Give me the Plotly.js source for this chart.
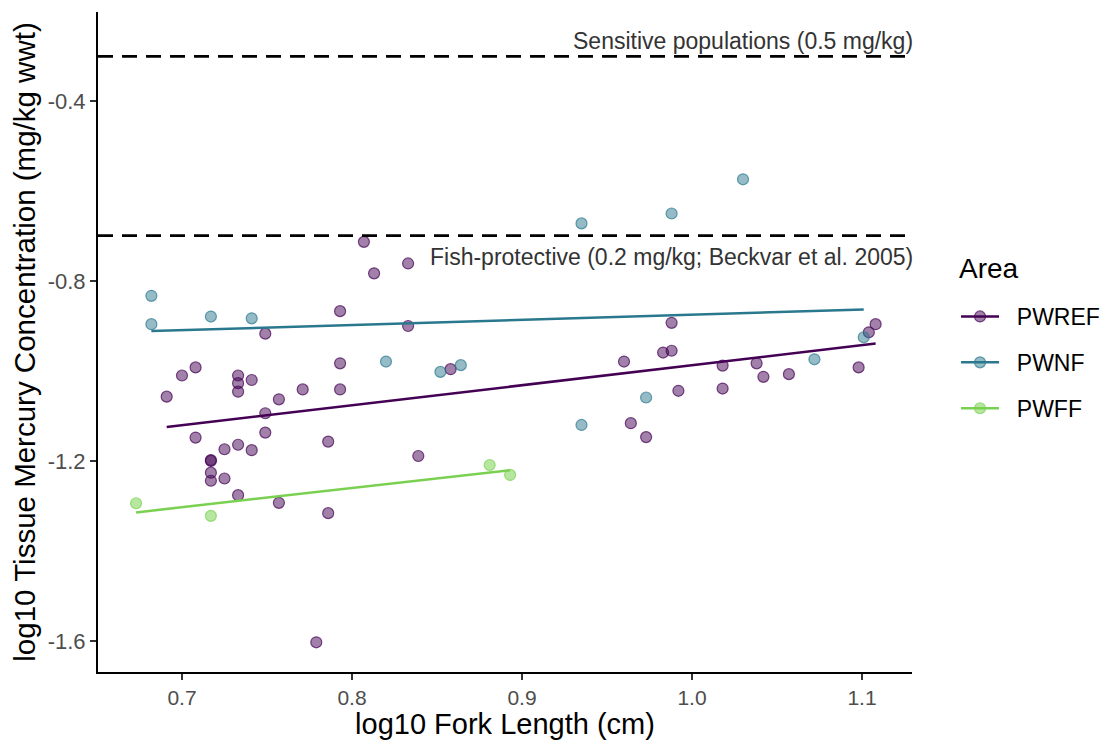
<!DOCTYPE html>
<html>
<head>
<meta charset="utf-8">
<script src="https://cdn.plot.ly/plotly-3.0.1.min.js"></script>
<style>html,body{margin:0;padding:0;background:#fff;}#chart{width:1102px;height:740px;}</style>
</head>
<body>
<div id="chart"></div>
<script>
// ---- data (log10 fork length, log10 tissue mercury) ----
var areas = ['PWREF', 'PWNF', 'PWFF'];
var areaColors = ['#440154', '#2A788E', '#7AD151'];

var pwrefX = [0.691, 0.700, 0.708, 0.708, 0.717, 0.717, 0.717, 0.717, 0.725, 0.725,
              0.733, 0.733, 0.733, 0.733, 0.733, 0.741, 0.741, 0.749, 0.749, 0.749,
              0.757, 0.757, 0.771, 0.779, 0.786, 0.786, 0.793, 0.793, 0.793, 0.807,
              0.813, 0.833, 0.833, 0.839, 0.858, 0.960, 0.964, 0.973, 0.983, 0.988,
              0.988, 0.992, 1.018, 1.018, 1.038, 1.042, 1.057, 1.098, 1.104, 1.108];
var pwrefY = [-1.057, -1.010, -0.992, -1.148, -1.198, -1.200, -1.226, -1.244, -1.174, -1.239,
              -1.010, -1.027, -1.046, -1.164, -1.276, -1.020, -1.176, -0.917, -1.094, -1.137,
              -1.063, -1.293, -1.041, -1.603, -1.157, -1.316, -0.867, -0.983, -1.041, -0.713,
              -0.783, -0.761, -0.900, -1.189, -0.996, -0.979, -1.116, -1.147, -0.959, -0.893,
              -0.955, -1.044, -0.988, -1.039, -0.983, -1.013, -1.007, -0.992, -0.914, -0.896];

var pwnfX = [0.682, 0.682, 0.717, 0.741, 0.820, 0.852, 0.864, 0.935, 0.935, 0.973,
             0.988, 1.030, 1.072, 1.101];
var pwnfY = [-0.833, -0.896, -0.879, -0.883, -0.979, -1.002, -0.987, -0.672, -1.120, -1.059,
             -0.650, -0.574, -0.974, -0.925];

var pwffX = [0.673, 0.717, 0.881, 0.893];
var pwffY = [-1.294, -1.322, -1.209, -1.231];

// reference thresholds (mg/kg) and labels
var thresholdValues = [0.5, 0.2];
var thresholdLabels = ['Sensitive populations (0.5 mg/kg)',
                       'Fish-protective (0.2 mg/kg; Beckvar et al. 2005)'];

// axis ticks and titles
var xTickVals = [0.7, 0.8, 0.9, 1.0, 1.1];
var xTickText = ['0.7', '0.8', '0.9', '1.0', '1.1'];
var yTickVals = [-0.4, -0.8, -1.2, -1.6];
var yTickText = ['-0.4', '-0.8', '-1.2', '-1.6'];
var xTitle = 'log10 Fork Length (cm)';
var yTitle = 'log10 Tissue Mercury Concentration (mg/kg wwt)';
var legendTitle = 'Area';

// ---- build ----
var xs = [pwrefX, pwnfX, pwffX];
var ys = [pwrefY, pwnfY, pwffY];
var pointAlpha = [0.5, 0.5, 0.55];

function hexToRgba(hex, a) {
  var r = parseInt(hex.slice(1, 3), 16), g = parseInt(hex.slice(3, 5), 16), b = parseInt(hex.slice(5, 7), 16);
  return 'rgba(' + r + ',' + g + ',' + b + ',' + a + ')';
}
function linFit(x, y) {
  var n = x.length, mx = 0, my = 0;
  for (var i = 0; i < n; i++) { mx += x[i]; my += y[i]; }
  mx /= n; my /= n;
  var sxy = 0, sxx = 0;
  for (var j = 0; j < n; j++) { sxy += (x[j] - mx) * (y[j] - my); sxx += (x[j] - mx) * (x[j] - mx); }
  var b = sxy / sxx;
  return { a: my - b * mx, b: b };
}

var font = '"Liberation Sans", Arial, sans-serif';
var traces = [];
// points first
for (var k = 0; k < areas.length; k++) {
  traces.push({
    type: 'scatter', mode: 'markers', x: xs[k], y: ys[k], name: areas[k],
    legendgroup: areas[k], showlegend: false, hoverinfo: 'x+y+name',
    marker: { size: 11, color: hexToRgba(areaColors[k], pointAlpha[k]),
              line: { width: 1.2, color: hexToRgba(areaColors[k], 0.7) } }
  });
}
// regression lines (also carry the legend entry: line + point)
for (var m = 0; m < areas.length; m++) {
  var f = linFit(xs[m], ys[m]);
  var x0 = Math.min.apply(null, xs[m]), x1 = Math.max.apply(null, xs[m]);
  traces.push({
    type: 'scatter', mode: 'lines+markers', x: [x0, x1], y: [f.a + f.b * x0, f.a + f.b * x1],
    name: '\u00a0\u00a0' + areas[m], legendgroup: areas[m], showlegend: true, hoverinfo: 'skip',
    line: { color: areaColors[m], width: 2.5 },
    marker: { size: 11, color: hexToRgba(areaColors[m], pointAlpha[m]), opacity: [0, 0, 3],
              line: { width: 1.2, color: hexToRgba(areaColors[m], 0.7) } }
  });
}

var shapes = [], annotations = [];
for (var t = 0; t < thresholdValues.length; t++) {
  var yv = Math.log10(thresholdValues[t]);
  shapes.push({ type: 'line', xref: 'paper', x0: 0, x1: 1, yref: 'y', y0: yv, y1: yv,
                line: { color: '#000', width: 2.8, dash: '15px,9px' } });
  annotations.push({ xref: 'paper', x: 1, xanchor: 'right', xshift: 3, yref: 'y', y: yv,
                     yanchor: t === 0 ? 'bottom' : 'top', yshift: t === 0 ? 0 : -6,
                     text: thresholdLabels[t], showarrow: false,
                     font: { family: font, size: 23, color: '#333333' } });
}
// legend title
annotations.push({ xref: 'paper', x: 1.0553, xanchor: 'left', yref: 'paper', y: 0.6121, yanchor: 'middle',
                   text: legendTitle, showarrow: false, font: { family: font, size: 28, color: '#000' } });

var layout = {
  width: 1102, height: 740,
  margin: { l: 98, r: 190, t: 12, b: 68, autoexpand: false },
  paper_bgcolor: '#ffffff', plot_bgcolor: '#ffffff',
  font: { family: font, color: '#000' },
  showlegend: true,
  xaxis: {
    range: [0.6506, 1.1294], tickvals: xTickVals, ticktext: xTickText,
    showgrid: false, zeroline: false, showline: true, linecolor: '#000', linewidth: 2,
    ticks: 'outside', ticklen: 6, tickwidth: 2, tickcolor: '#333333',
    tickfont: { family: font, size: 21, color: '#4D4D4D' },
    title: { text: xTitle, font: { family: font, size: 29, color: '#000' }, standoff: 3 },
    automargin: false
  },
  yaxis: {
    range: [-1.669, -0.2022], tickvals: yTickVals, ticktext: yTickText,
    showgrid: false, zeroline: false, showline: true, linecolor: '#000', linewidth: 2,
    ticks: 'outside', ticklen: 6, tickwidth: 2, tickcolor: '#333333',
    tickfont: { family: font, size: 22, color: '#4D4D4D' },
    title: { text: yTitle, font: { family: font, size: 29.5, color: '#000' }, standoff: 3 },
    automargin: false
  },
  legend: {
    x: 1.0541, xanchor: 'left', y: 0.5712, yanchor: 'top',
    font: { family: font, size: 23, color: '#000' },
    traceorder: 'grouped', tracegroupgap: 13, itemwidth: 38,
    bgcolor: 'rgba(0,0,0,0)'
  },
  shapes: shapes,
  annotations: annotations
};

Plotly.newPlot('chart', traces, layout, { displayModeBar: false, staticPlot: true });
</script>
</body>
</html>
